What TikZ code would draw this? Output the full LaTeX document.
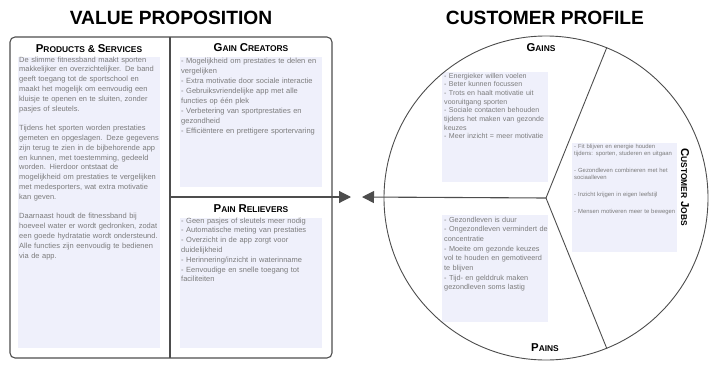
\documentclass[tikz,border=0pt]{standalone}
\usepackage{fontspec}
\setmainfont{Liberation Sans}
\usetikzlibrary{positioning, calc, arrows.meta}
\definecolor{Ink}{HTML}{4D4D4D}
\definecolor{Body}{HTML}{7C7C7C}
\definecolor{Lav}{HTML}{EFF0FB}
\newcommand\smallcap[2]{{\fontsize{11.4}{12}\selectfont #1}{\fontsize{8.4}{12}\selectfont #2}}
\tikzset{
    frame/.style={draw=Ink, line width=1.1pt},
    paper/.style={fill=Lav},
    bigtitle/.style={anchor=base, inner sep=0pt, font=\bfseries\fontsize{19.2}{20}\selectfont},
    header/.style={anchor=base, inner sep=0pt, font=\bfseries},
    bodytext/.style={anchor=base west, inner sep=0pt, align=left, text=Body, font=\fontsize{7.5}{9.8}\selectfont},
    pointer/.style={-{Triangle[length=12pt, width=12pt]}, line width=1.1pt, draw=Ink},
}

\begin{document}
\begin{tikzpicture}[x=1pt, y=-1pt]
    \useasboundingbox (0,0) rectangle (718,391);

    % Titoli
    \node[bigtitle] (vptitle) at (171,24) {VALUE PROPOSITION};
    \node[bigtitle] (cptitle) at (545,24) {CUSTOMER PROFILE};

    % Value proposition
    \fill[paper] (18,57) rectangle (160,348);
    \fill[paper] (180,57) rectangle (322,187);
    \fill[paper] (180,218) rectangle (322,348);
    \draw[frame, rounded corners=5pt] (10,37) rectangle (332,358);
    \draw[frame] (170,37) -- (170,358);
    \coordinate (split) at (170,197);
    \coordinate (vpedge) at (332,197);
    \draw[frame] (split) -- (vpedge);

    \node[header] (prodhead) at (89,52) {\smallcap{P}{RODUCTS} \& \smallcap{S}{ERVICES}};
    \node[header] (gainhead) at (251,51) {\smallcap{G}{AIN} \smallcap{C}{REATORS}};
    \node[header] (painhead) at (251,212) {\smallcap{P}{AIN} \smallcap{R}{ELIEVERS}};

    \node[bodytext, text width=150pt] (prodtext) at (19,62) {De slimme fitnessband maakt sporten\\
        makkelijker en overzichtelijker. De band\\
        geeft toegang tot de sportschool en\\
        maakt het mogelijk om eenvoudig een\\
        kluisje te openen en te sluiten, zonder\\
        pasjes of sleutels.\\[9.8pt]
        Tijdens het sporten worden prestaties\\
        gemeten en opgeslagen. Deze gegevens\\
        zijn terug te zien in de bijbehorende app\\
        en kunnen, met toestemming, gedeeld\\
        worden. Hierdoor ontstaat de\\
        mogelijkheid om prestaties te vergelijken\\
        met medesporters, wat extra motivatie\\
        kan geven.\\[9.8pt]
        Daarnaast houdt de fitnessband bij\\
        hoeveel water er wordt gedronken, zodat\\
        een goede hydratatie wordt ondersteund.\\
        Alle functies zijn eenvoudig te bedienen\\
        via de app.};
    \node[bodytext, text width=150pt, font=\fontsize{7.5}{10}\selectfont] (gaintext) at (181,63) {- Mogelijkheid om prestaties te delen en\\
        vergelijken\\
        - Extra motivatie door sociale interactie\\
        - Gebruiksvriendelijke app met alle\\
        functies op één plek\\
        - Verbetering van sportprestaties en\\
        gezondheid\\
        - Efficiëntere en prettigere sportervaring};
    \node[bodytext, text width=150pt] (paintext) at (181,223) {- Geen pasjes of sleutels meer nodig\\
        - Automatische meting van prestaties\\
        - Overzicht in de app zorgt voor\\
        duidelijkheid\\
        - Herinnering/inzicht in waterinname\\
        - Eenvoudige en snelle toegang tot\\
        faciliteiten};

    % Customer profile
    \coordinate (core) at (546,198);
    \fill[paper] (442,72) rectangle (548,182);
    \fill[paper] (442,215) rectangle (548,322);
    \fill[paper] (572,143) rectangle (677,252);
    \node[frame, line width=0.9pt, circle, minimum size=324pt, inner sep=0pt] (profile) at (core) {};
    \draw[frame, line width=0.9pt] (core) -- (profile.68);
    \draw[frame, line width=0.9pt] (core) -- (profile.-68);

    \node[header] (gainslbl) at (541,51) {\smallcap{G}{AINS}};
    \node[header] (painslbl) at (545,351) {\smallcap{P}{AINS}};
    \node[font=\bfseries, rotate=-90, inner sep=0pt] (jobslbl) at (685,187) {\smallcap{C}{USTOMER} \smallcap{J}{OBS}};

    \node[bodytext, text width=115pt, font=\fontsize{7.1}{8.7}\selectfont] (gainstext) at (444,78) {- Energieker willen voelen\\
        - Beter kunnen focussen\\
        - Trots en haalt motivatie uit\\
        vooruitgang sporten\\
        - Sociale contacten behouden\\
        tijdens het maken van gezonde\\
        keuzes\\
        - Meer inzicht = meer motivatie};
    \node[bodytext, text width=115pt, font=\fontsize{7.3}{9.7}\selectfont] (painstext) at (444,222) {- Gezondleven is duur\\
        - Ongezondleven vermindert de\\
        concentratie\\
        - Moeite om gezonde keuzes\\
        vol te houden en gemotiveerd\\
        te blijven\\
        - Tijd- en gelddruk maken\\
        gezondleven soms lastig};
    \node[bodytext, text width=120pt, font=\fontsize{5.9}{7.6}\selectfont] (jobstext) at (574,148) {- Fit blijven en energie houden\\
        tijdens: sporten, studeren en uitgaan\\[9pt]
        - Gezondleven combineren met het\\
        sociaalleven\\[9pt]
        - Inzicht krijgen in eigen leefstijl\\[9pt]
        - Mensen motiveren meer te bewegen};

    % Frecce
    \coordinate (vptip) at (351,197);
    \coordinate (cptip) at (362,197);
    \draw[pointer] (vpedge) -- (vptip);
    \draw[pointer] (core) -- (cptip);
\end{tikzpicture}
\end{document}
